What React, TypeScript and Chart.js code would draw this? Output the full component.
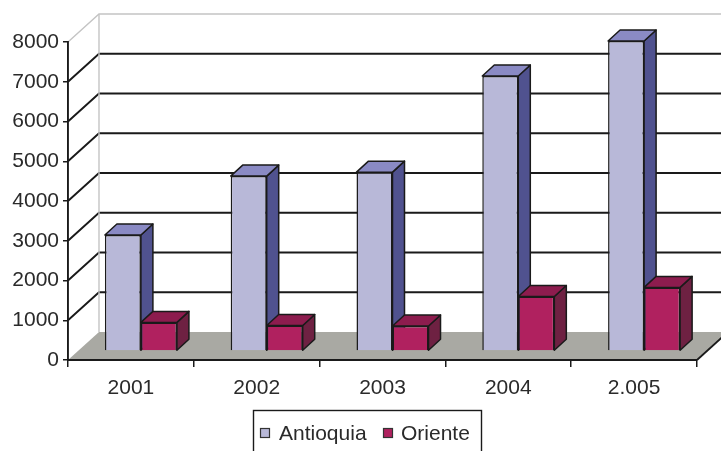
import React, { useEffect, useRef } from "react";
import { Chart, registerables } from "chart.js";

Chart.register(...registerables);

// ---- data ----
const categories = ["2001", "2002", "2003", "2004", "2.005"];
const seriesNames = ["Antioquia", "Oriente"];
const antioquia = [2920, 4400, 4500, 6920, 7800];
const oriente = [720, 640, 630, 1370, 1600];
const yTickValues = [0, 1000, 2000, 3000, 4000, 5000, 6000, 7000, 8000];

// ---- styles ----
const FONT = "'Liberation Sans', Arial, Helvetica, sans-serif";
const FRONT = ["#b8b8d8", "#b0215f"];
const SIDE = ["#50528f", "#6e2142"];
const TOP = ["#8a8ac4", "#8d1c4e"];
const FLOOR = "#a9a9a3";
const LINE = "#1a1a1a";
const LIGHT = "#c4c4c4";
const TEXT = "#2a2a2a";
const WALL = { dx: 31, dy: -28 };
const SHIFT = { dx: 10, dy: -9 };
const DEPTH = { dx: 12, dy: -11 };

const threeD = {
  id: "threeD",
  beforeDraw(chart: any) {
    const { ctx, chartArea: a, scales } = chart;
    const ys = scales.y;
    ctx.save();
    ctx.fillStyle = "#fff";
    ctx.fillRect(0, 0, chart.width, chart.height);
    const y0 = ys.getPixelForValue(0);
    // floor
    ctx.fillStyle = FLOOR;
    ctx.beginPath();
    ctx.moveTo(a.left, y0);
    ctx.lineTo(a.right, y0);
    ctx.lineTo(a.right + WALL.dx, y0 + WALL.dy);
    ctx.lineTo(a.left + WALL.dx, y0 + WALL.dy);
    ctx.closePath();
    ctx.fill();
    // back wall + left wall grid
    const top = yTickValues[yTickValues.length - 1];
    yTickValues.forEach((v) => {
      if (v === 0) return;
      const py = ys.getPixelForValue(v);
      ctx.strokeStyle = v === top ? LIGHT : LINE;
      ctx.lineWidth = v === top ? 1.4 : 1.9;
      ctx.beginPath();
      ctx.moveTo(a.left, py);
      ctx.lineTo(a.left + WALL.dx, py + WALL.dy);
      ctx.lineTo(a.right + WALL.dx, py + WALL.dy);
      ctx.stroke();
    });
    // back wall left edge
    ctx.strokeStyle = LIGHT;
    ctx.lineWidth = 1.4;
    ctx.beginPath();
    ctx.moveTo(a.left + WALL.dx, ys.getPixelForValue(top) + WALL.dy);
    ctx.lineTo(a.left + WALL.dx, y0 + WALL.dy);
    ctx.stroke();
    // floor right edge
    ctx.strokeStyle = LINE;
    ctx.lineWidth = 1.8;
    ctx.beginPath();
    ctx.moveTo(a.right, y0);
    ctx.lineTo(a.right + WALL.dx, y0 + WALL.dy);
    ctx.stroke();
    ctx.restore();
  },
  beforeDatasetsDraw(chart: any) {
    const { ctx } = chart;
    ctx.save();
    ctx.translate(SHIFT.dx, SHIFT.dy);
    ctx.lineJoin = "round";
    ctx.strokeStyle = LINE;
    ctx.lineWidth = 1.5;
    chart.data.datasets.forEach((_: any, di: number) => {
      const meta = chart.getDatasetMeta(di);
      meta.data.forEach((el: any) => {
        const { x, y, base, width } = el.getProps(["x", "y", "base", "width"], true);
        const l = x - width / 2;
        const r = x + width / 2;
        // side
        ctx.fillStyle = SIDE[di];
        ctx.beginPath();
        ctx.moveTo(r, y);
        ctx.lineTo(r + DEPTH.dx, y + DEPTH.dy);
        ctx.lineTo(r + DEPTH.dx, base + DEPTH.dy);
        ctx.lineTo(r, base);
        ctx.closePath();
        ctx.fill();
        ctx.stroke();
        // top
        ctx.fillStyle = TOP[di];
        ctx.beginPath();
        ctx.moveTo(l, y);
        ctx.lineTo(l + DEPTH.dx, y + DEPTH.dy);
        ctx.lineTo(r + DEPTH.dx, y + DEPTH.dy);
        ctx.lineTo(r, y);
        ctx.closePath();
        ctx.fill();
        ctx.stroke();
      });
    });
  },
  afterDatasetsDraw(chart: any) {
    chart.ctx.restore();
  },
  afterDraw(chart: any) {
    const { ctx } = chart;
    ctx.save();
    // legend box
    ctx.strokeStyle = LINE;
    ctx.lineWidth = 1.4;
    ctx.strokeRect(253.5, 410.5, 228, 60);
    ctx.font = `21px ${FONT}`;
    ctx.textBaseline = "middle";
    const items = [
      { mx: 260, tx: 279 },
      { mx: 383, tx: 401 },
    ];
    seriesNames.forEach((name, i) => {
      ctx.fillStyle = FRONT[i];
      ctx.fillRect(items[i].mx, 428, 10, 10);
      ctx.strokeStyle = "#333";
      ctx.lineWidth = 1.2;
      ctx.strokeRect(items[i].mx + 0.5, 428.5, 9, 9);
      ctx.fillStyle = TEXT;
      ctx.fillText(name, items[i].tx, 434);
    });
    ctx.restore();
  },
};

export default function App() {
  const ref = useRef<HTMLCanvasElement | null>(null);
  useEffect(() => {
    if (!ref.current) return;
    const chart = new Chart(ref.current, {
      type: "bar",
      data: {
        labels: categories,
        datasets: [
          {
            label: seriesNames[0],
            data: antioquia,
            backgroundColor: FRONT[0],
            borderColor: LINE,
            borderWidth: 1.5,
            barPercentage: 1,
            categoryPercentage: 0.5726,
            clip: false as any,
          },
          {
            label: seriesNames[1],
            data: oriente,
            backgroundColor: FRONT[1],
            borderColor: LINE,
            borderWidth: 1.5,
            barPercentage: 1,
            categoryPercentage: 0.5726,
            clip: false as any,
          },
        ],
      },
      options: {
        animation: false,
        responsive: false,
        devicePixelRatio: 1,
        layout: { padding: { top: 42, right: 24, left: 0, bottom: 0 } },
        plugins: { legend: { display: false }, tooltip: { enabled: false } },
        scales: {
          x: {
            offset: true,
            grid: {
              display: true,
              drawOnChartArea: false,
              drawTicks: true,
              tickLength: 7,
              color: LINE,
              lineWidth: 1.5,
              offset: true,
            },
            border: { display: true, color: LINE, width: 1.9 },
            ticks: {
              color: TEXT,
              font: { family: FONT, size: 21 },
              padding: 9,
              maxRotation: 0,
              autoSkip: false,
            },
            afterFit: (s: any) => {
              s.height = 91;
              s.paddingLeft = 0;
              s.paddingRight = 0;
            },
          },
          y: {
            min: 0,
            max: 8000,
            afterBuildTicks: (s: any) => {
              s.ticks = yTickValues.map((v) => ({ value: v }));
            },
            ticks: {
              color: TEXT,
              font: { family: FONT, size: 21 },
              padding: 4,
              callback: (v: any) => String(v),
            },
            grid: {
              display: true,
              drawOnChartArea: false,
              drawTicks: true,
              tickLength: 5,
              color: LINE,
              lineWidth: 1.5,
            },
            border: { display: true, color: LINE, width: 1.9 },
            afterFit: (s: any) => {
              s.width = 68;
              s.paddingTop = 0;
              s.paddingBottom = 0;
            },
          },
        },
      },
      plugins: [threeD],
    });
    return () => chart.destroy();
  }, []);
  return (
    <div style={{ position: "absolute", left: 0, top: 0, width: 721, height: 451, background: "#fff" }}>
      <canvas ref={ref} width={721} height={451} style={{ display: "block" }} />
    </div>
  );
}
